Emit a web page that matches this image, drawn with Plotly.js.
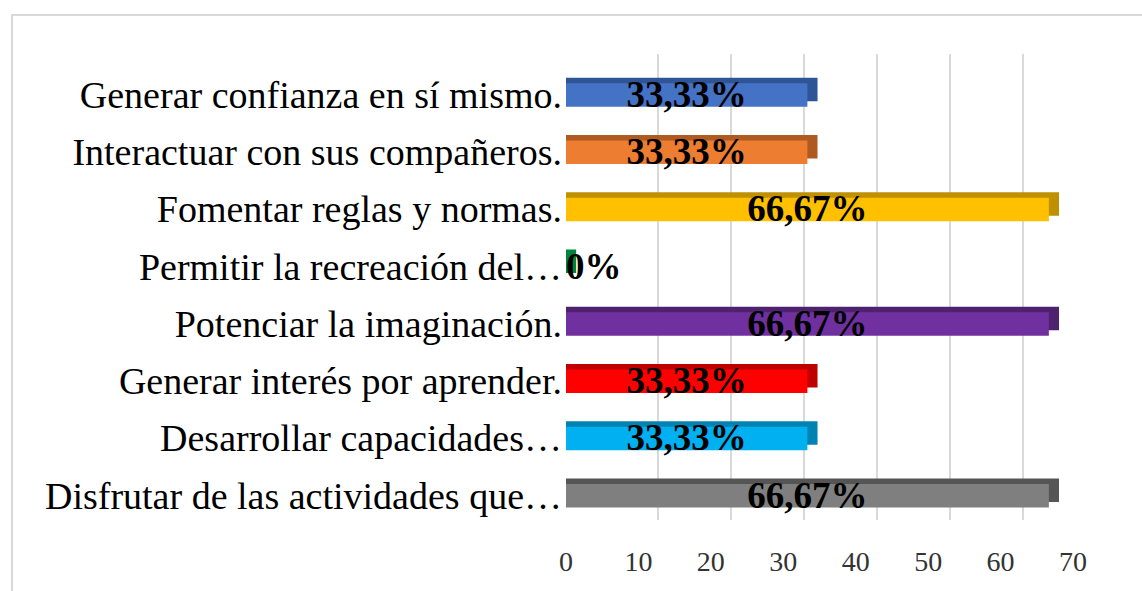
<!DOCTYPE html>
<html>
<head>
<meta charset="utf-8">
<script src="https://cdn.plot.ly/plotly-3.0.1.min.js"></script>
<style>
  html, body { margin: 0; padding: 0; background: #ffffff; }
  #wrap { position: relative; width: 1142px; height: 591px; overflow: hidden; }
  #frame { position: absolute; left: 11px; top: 14px; width: 1200px; height: 700px;
           border-left: 2px solid #d9d9d9; border-top: 2px solid #d9d9d9; box-sizing: border-box; }
  #chart { position: absolute; left: 0; top: 0; width: 1142px; height: 591px; }
</style>
</head>
<body>
<div id="wrap">
  <div id="frame"></div>
  <div id="chart"></div>
</div>
<script>
const categories = [
  "Generar confianza en sí mismo.",
  "Interactuar con sus compañeros.",
  "Fomentar reglas y normas.",
  "Permitir la recreación del…",
  "Potenciar la imaginación.",
  "Generar interés por aprender.",
  "Desarrollar capacidades…",
  "Disfrutar de las actividades que…"
];
const values = [33.33, 33.33, 66.67, 0, 66.67, 33.33, 33.33, 66.67];
const valueLabels = ["33,33%", "33,33%", "66,67%", "0%", "66,67%", "33,33%", "33,33%", "66,67%"];
const barColors = ["#4472C4", "#ED7D31", "#FFC000", "#00B050", "#7030A0", "#FF0000", "#00B0F0", "#7F7F7F"];
const shadeColors = ["#2F5597", "#AE5A21", "#BF9000", "#00833C", "#4F2270", "#BF0000", "#0083B3", "#555555"];
const xTicks = [0, 10, 20, 30, 40, 50, 60, 70];

const DEPTH = 1.4; // visual depth of the 3D bars, in axis units
const catRange = [categories.length - 0.5, -0.5]; // reversed: first category on top

// back-plane gridlines (depth offset of the 3D chart) - drawn first, behind the bars
const gridHelper = {
  type: "scatter",
  mode: "markers",
  x: [xTicks[0]],
  y: [0],
  marker: { opacity: 0 },
  hoverinfo: "skip",
  xaxis: "x",
  yaxis: "y",
  showlegend: false
};

// darker back block: gives the top bevel and right side of the 3D bars
const barsBack = {
  type: "bar",
  orientation: "h",
  y: categories,
  x: values.map(v => v + DEPTH),
  base: 0,
  width: 0.41,
  offset: -0.295,
  marker: { color: shadeColors, line: { width: 0 } },
  hoverinfo: "skip",
  xaxis: "x2",
  yaxis: "y2",
  showlegend: false
};

const bars = {
  type: "bar",
  orientation: "h",
  y: categories,
  x: values,
  base: 0,
  width: 0.41,
  offset: -0.2,
  marker: { color: barColors, line: { width: 0 } },
  hoverinfo: "skip",
  xaxis: "x2",
  yaxis: "y2",
  showlegend: false
};

const labels = {
  type: "scatter",
  mode: "text",
  y: categories,
  x: values.map(v => v / 2),
  text: valueLabels,
  textposition: values.map(v => (v === 0 ? "middle right" : "middle center")),
  textfont: { family: "Liberation Serif, Times New Roman, serif", size: 37, color: "#000000", weight: "bold" },
  hoverinfo: "skip",
  xaxis: "x3",
  yaxis: "y3",
  showlegend: false,
  cliponaxis: false
};

const hidden = {
  showgrid: false, showticklabels: false, zeroline: false, showline: false, ticks: ""
};

const layout = {
  width: 1142,
  height: 591,
  margin: { l: 566, r: 42, t: 54, b: 62 },
  paper_bgcolor: "rgba(0,0,0,0)",
  plot_bgcolor: "rgba(0,0,0,0)",
  barmode: "overlay",
  // gridline plane (back wall)
  xaxis: Object.assign({}, hidden, {
    domain: [0.0356, 0.9925],
    range: [0, 70],
    tickvals: xTicks,
    showgrid: true,
    gridcolor: "#d9d9d9",
    gridwidth: 2,
    anchor: "y"
  }),
  yaxis: Object.assign({}, hidden, {
    domain: [0.0189, 1],
    range: [0, 1],
    anchor: "x"
  }),
  // bars and axis labels
  xaxis2: {
    domain: [0, 0.9494],
    range: [0, 70],
    tickvals: xTicks,
    ticktext: xTicks.map(String),
    showgrid: false,
    zeroline: false,
    showline: false,
    ticks: "",
    ticklabelstandoff: 18,
    tickfont: { family: "Liberation Serif, Times New Roman, serif", size: 28, color: "#333333" },
    anchor: "y2"
  },
  yaxis2: {
    domain: [0.0105, 0.9747],
    type: "category",
    range: catRange,
    autorange: false,
    showgrid: false,
    zeroline: false,
    showline: false,
    ticks: "",
    ticklabelstandoff: 3,
    tickfont: { family: "Liberation Serif, Times New Roman, serif", size: 38, color: "#000000" },
    anchor: "x2"
  },
  // data labels (sit slightly lower, as in the original)
  xaxis3: Object.assign({}, hidden, {
    domain: [0, 0.9494],
    range: [0, 70],
    anchor: "y3"
  }),
  yaxis3: Object.assign({}, hidden, {
    domain: [0.0042, 0.9684],
    type: "category",
    range: catRange,
    autorange: false,
    anchor: "x3"
  })
};

Plotly.newPlot("chart", [gridHelper, barsBack, bars, labels], layout, { displayModeBar: false, staticPlot: true });
</script>
</body>
</html>
